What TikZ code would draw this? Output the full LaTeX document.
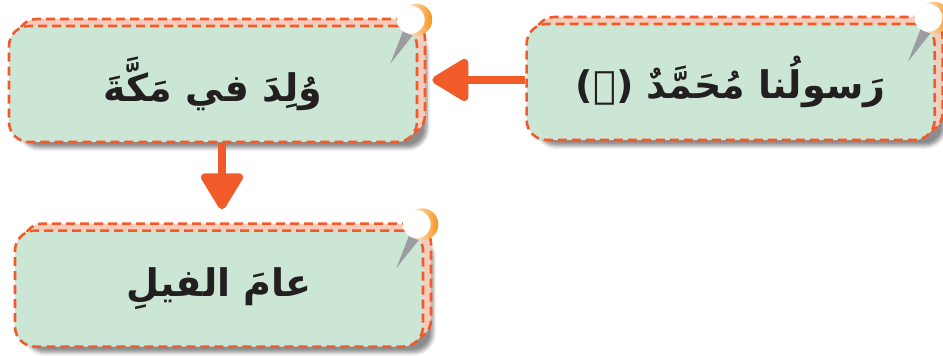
\documentclass[tikz,border=0pt]{standalone}
\usepackage{fontspec}
\newfontfamily\arabicfont[Script=Arabic]{DejaVu Sans}
\TeXXeTstate=1
\usetikzlibrary{arrows.meta, positioning, shadows, shadows.blur, calc}
\definecolor{boxgreen}{HTML}{CCE6D5}
\definecolor{dashred}{HTML}{F15A29}
\definecolor{sheetpink}{HTML}{F6CDBC}
\definecolor{pinorange}{HTML}{F7941D}
\definecolor{needlegrey}{HTML}{9C9DA1}
\definecolor{inkblack}{HTML}{231F20}

% pushpin on the top right corner of a box
\newcommand{\pushpin}[1]{%
  \coordinate (#1pin) at ([xshift=-1pt, yshift=2.5pt]#1.north east);
  \fill[needlegrey] ($(#1pin)+(-6pt,-4pt)$) -- ($(#1pin)+(-1.5pt,-7.5pt)$) -- ($(#1pin)+(-13pt,-22pt)$) -- cycle;
  \shade[left color=white, right color=pinorange] (#1pin) circle (8pt);
  \fill[white] ([xshift=-2.8pt]#1pin) circle (7pt);
}

\begin{document}
\begin{tikzpicture}[x=0.5pt, y=-0.5pt,
        box/.style={rectangle, draw=dashred, dashed, dash pattern=on 4.5pt off 2.5pt, line width=1.3pt,
            rounded corners=10pt, fill=boxgreen, minimum width=204pt, minimum height=58pt,
            text=inkblack, font=\fontsize{19}{23}\selectfont\arabicfont\bfseries,
            blur shadow={shadow xshift=5pt, shadow yshift=-3pt, shadow blur steps=6, shadow opacity=45},
            copy shadow={shadow xshift=4pt, shadow yshift=3.5pt, fill=sheetpink, draw=dashred, dashed, dash pattern=on 4.5pt off 2.5pt, line width=1.3pt}},
        flow/.style={-{Triangle[width=23pt, length=20pt, round]}, line width=4pt, draw=dashred, fill=dashred},
        node distance=43pt and 53.5pt
        ]

        \useasboundingbox (0,0) rectangle (943,356);

        % Nodes
        \node (birth) [box] at (213,84) {\beginR وُلِدَ في مَكَّةَ\endR};
        \node (prophet) [box, right=of birth, yshift=1pt] {\beginR رَسولُنا مُحَمَّدٌ ({\mdseries ﷺ})\endR};
        \node (elephant) [box, below=of birth, xshift=3pt] {\beginR عامَ الفيلِ\endR};

        \pushpin{birth}
        \pushpin{prophet}
        \pushpin{elephant}

        % Arrows
        \draw [flow, shorten >=7pt] ([yshift=1pt]prophet.west) -- ([yshift=1pt]prophet.west -| birth.east);
        \draw [flow, shorten >=10pt] ([xshift=4.5pt]birth.south) -- ([xshift=4.5pt]birth.south |- elephant.north);

    \end{tikzpicture}
\end{document}
